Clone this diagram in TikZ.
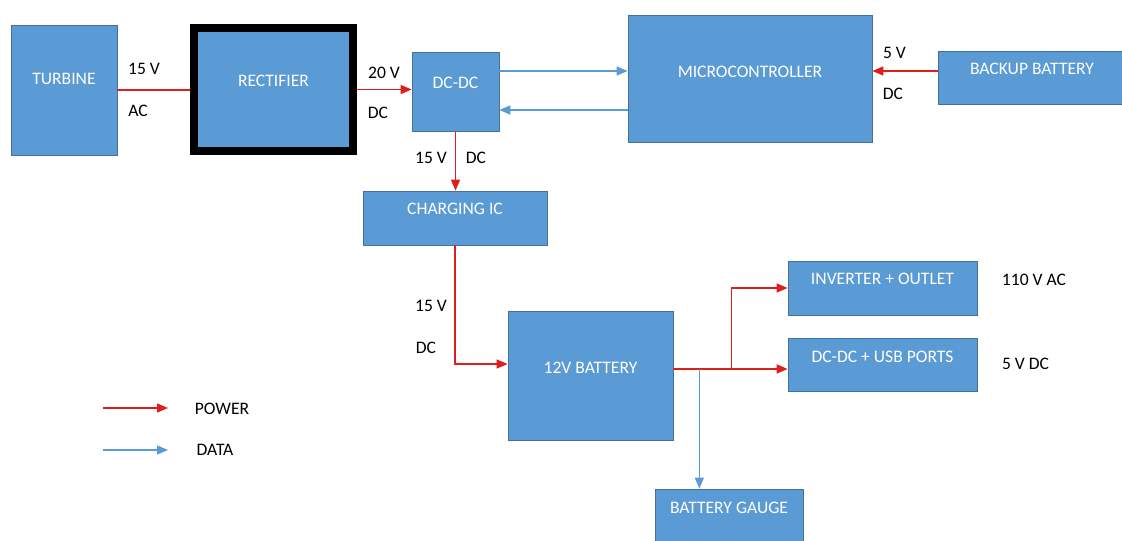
\documentclass[tikz,border=0pt]{standalone}
\usepackage{fontspec}
\setmainfont{Carlito}
\usepackage{xcolor}
\usepackage{tikz}
\usetikzlibrary{arrows.meta, positioning, calc}
\definecolor{boxfill}{HTML}{5B9BD5}
\definecolor{boxedge}{HTML}{41719C}
\definecolor{power}{HTML}{E01E1E}
\definecolor{signal}{HTML}{5B9BD5}

\begin{document}
\begin{tikzpicture}[x=0.2mm, y=-0.2mm, font=\fontsize{10}{12}\selectfont,
  blk/.style={draw=boxedge, fill=boxfill, text=white, inner sep=0pt,
    text height=6.5pt, text depth=#1},
  blk/.default=10pt,
  wire/.style={draw=power, line width=0.3mm},
  pwr/.style={wire, -{Triangle[length=2.2mm,width=1.8mm]}},
  dat/.style={draw=signal, line width=0.3mm, -{Triangle[length=2.2mm,width=1.8mm]}},
  tag/.style={inner sep=0pt, text=black}]
  \useasboundingbox (0,0) rectangle (1122,541);
  % Blocks
  \node[blk=12.5pt, minimum width=21.2mm, minimum height=26mm] (turbine) at (64,90) {TURBINE};
  \node[blk, draw=black, line width=1.6mm, minimum width=31.8mm, minimum height=24.6mm] (rect) at (273.5,89.5) {RECTIFIER};
  \node[blk, minimum width=17.4mm, minimum height=15.8mm] (dcdc) at (455.5,91.5) {DC-DC};
  \node[blk=7.5pt, minimum width=48.8mm, minimum height=25.4mm] (mcu) at (750,78.5) {MICROCONTROLLER};
  \node[blk, minimum width=37.6mm, minimum height=10.6mm] (backup) at (1032,77.5) {BACKUP BATTERY};
  \node[blk, minimum width=36.8mm, minimum height=10.8mm] (charger) at (455,218) {CHARGING IC};
  \node[blk=8.5pt, minimum width=33mm, minimum height=25.8mm] (battery) at (590.5,375.5) {12V BATTERY};
  \node[blk, minimum width=37.8mm, minimum height=10.8mm] (inverter) at (882.5,288) {INVERTER + OUTLET};
  \node[blk=8.5pt, minimum width=37.8mm, minimum height=10.6mm] (usb) at (882.5,364.5) {DC-DC + USB PORTS};
  \node[blk, minimum width=29.6mm, minimum height=11.2mm] (gauge) at (729,517) {BATTERY GAUGE};
  % Power and data links
  \draw[wire] (turbine.east) -- (turbine.east -| rect.west);
  \draw[pwr] (rect.east) -- (rect.east -| dcdc.west);
  \coordinate (dtop) at ([yshift=4.1mm]dcdc.east);
  \coordinate (dlow) at ([yshift=-3.7mm]dcdc.east);
  \draw[dat] (dtop) -- (dtop -| mcu.west);
  \draw[dat] (dlow -| mcu.west) -- (dlow);
  \coordinate (bkin) at ([yshift=1.3mm]backup.west);
  \draw[pwr] (bkin) -- (bkin -| mcu.east);
  \draw[pwr] (dcdc.south) -- (dcdc.south |- charger.north);
  \coordinate (batin) at ([yshift=2.3mm]battery.west);
  \draw[pwr] (charger.south) |- (batin);
  \coordinate (batout) at ([yshift=1.3mm]battery.east);
  \coordinate (split) at ([xshift=11.6mm]batout);
  \coordinate (tap) at ([xshift=5.2mm]batout);
  \draw[wire] (batout) -- (split);
  \draw[pwr] (split) -- (split -| usb.west);
  \draw[pwr] (split) |- (inverter.west);
  \draw[dat] (tap) -- (tap |- gauge.north);
  % Voltage labels
  \node[tag] (acv) at (144,69) {15 V};
  \node[tag] (acl) at (138,111) {AC};
  \node[tag] (rcv) at (384,73) {20 V};
  \node[tag] (rcl) at (378,113) {DC};
  \node[tag] (bkv) at (894.5,52.5) {5 V};
  \node[tag] (bkl) at (893,94) {DC};
  \node[tag] (chv) at (431,158) {15 V};
  \node[tag] (chl) at (476,158) {DC};
  \node[tag] (btv) at (431,306) {15 V};
  \node[tag] (btl) at (426,348) {DC};
  \node[tag] (invout) at (1034,280) {110 V AC};
  \node[tag] (usbout) at (1025.5,363.5) {5 V DC};
  % Legend
  \coordinate (pw0) at (103,408); \coordinate (pw1) at (168,408);
  \coordinate (dt0) at (103,450); \coordinate (dt1) at (168,450);
  \draw[pwr] (pw0) -- (pw1);
  \draw[dat] (dt0) -- (dt1);
  \node[tag] (pwrkey) at (222,408.5) {POWER};
  \node[tag] (datkey) at (215,450) {DATA};
\end{tikzpicture}
\end{document}
